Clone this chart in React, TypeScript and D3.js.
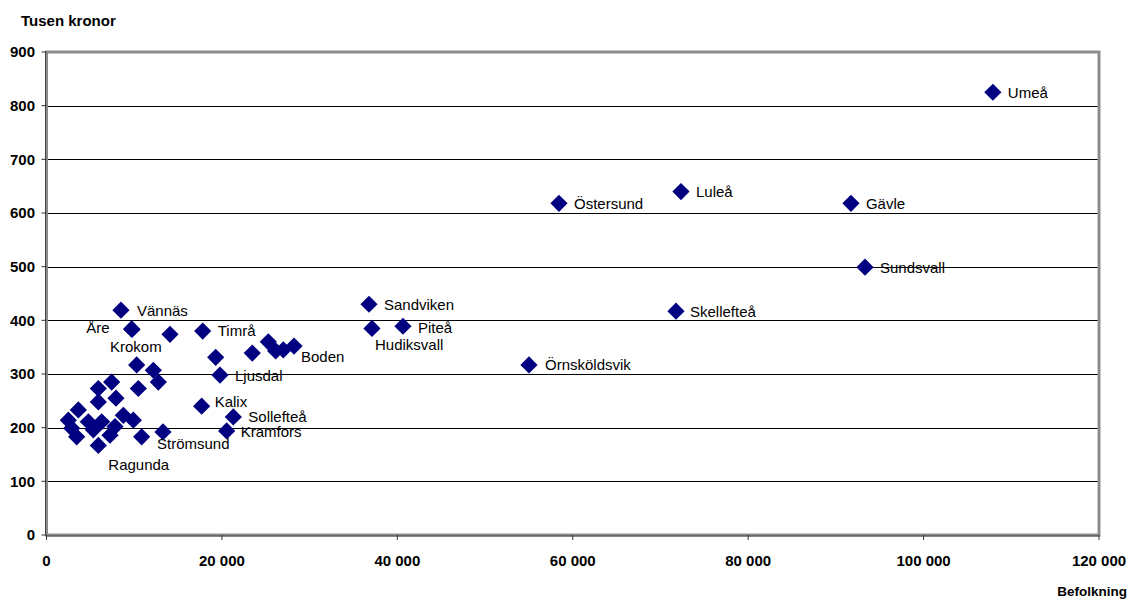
import React from "react";
import * as d3 from "d3";

// Population (Befolkning) and value (Tusen kronor) per municipality
const names: string[] = [
  "Umeå", "Luleå", "Gävle", "Östersund", "Sundsvall", "Skellefteå", "Örnsköldsvik",
  "Sandviken", "Hudiksvall", "Piteå", "Vännäs", "Åre", "Krokom", "", "Timrå", "",
  "Ljusdal", "", "", "", "", "Boden", "Kalix", "Sollefteå", "Kramfors", "Strömsund",
  "", "Ragunda", "", "", "", "", "", "", "", "", "", "", "", "", "", "", "", "", "", "",
];
const population: number[] = [
  107900, 72340, 91720, 58430, 93320, 71770, 55010,
  36770, 37110, 40640, 8490, 9700, 9750, 14080, 17810, 19290,
  19780, 23460, 25290, 26130, 27000, 28220, 17690, 21300, 20540, 13280,
  10850, 5910, 10280, 12180, 12750, 10470, 7430, 5910, 5910, 7920, 3630, 2490, 4770, 6290,
  8760, 9900, 3440, 7240, 5340, 2870, 7810,
];
const value: number[] = [
  825, 640, 618, 618, 499, 417, 317,
  430, 385, 389, 419, 384, 383, 374, 380, 331,
  298, 339, 360, 343, 345, 352, 240, 220, 194, 192,
  183, 167, 317, 307, 285, 273, 285, 273, 248, 255, 233, 214, 211, 211,
  223, 214, 183, 186, 196, 199, 202,
];
const yTicks: number[] = [0, 100, 200, 300, 400, 500, 600, 700, 800, 900];
const xTicks: number[] = [0, 20000, 40000, 60000, 80000, 100000, 120000];

// label placement (offset from marker centre, anchor)
const labelPlace: Record<string, [number, number, string]> = {
  "Umeå": [15, 0, "start"],
  "Luleå": [15, 0, "start"],
  "Gävle": [15, 0, "start"],
  "Östersund": [15, 0, "start"],
  "Sundsvall": [15, 0, "start"],
  "Skellefteå": [14, 0, "start"],
  "Örnsköldsvik": [16, 0, "start"],
  "Sandviken": [15, 0, "start"],
  "Hudiksvall": [3, 16, "start"],
  "Piteå": [15, 1, "start"],
  "Vännäs": [16, 0, "start"],
  "Åre": [-22, -1, "end"],
  "Krokom": [-22, 17, "start"],
  "Timrå": [15, 0, "start"],
  "Ljusdal": [15, 1, "start"],
  "Boden": [7, 11, "start"],
  "Kalix": [13, -5, "start"],
  "Sollefteå": [15, 0, "start"],
  "Kramfors": [14, 1, "start"],
  "Strömsund": [-6, 12, "start"],
  "Ragunda": [10, 19, "start"],
};

const W = 1138;
const H = 602;
const left = 46.5, right = 1099, top = 52, bottom = 535;

export default function App() {
  const x = d3.scaleLinear().domain([0, 120000]).range([left, right]);
  const y = d3.scaleLinear().domain([0, 900]).range([bottom, top]);
  const fmt = (v: number) => d3.format(",")(v).replace(/,/g, " ");
  const r = 8.6;
  const diamond = `M0,${-r}L${r},0L0,${r}L${-r},0Z`;
  const font = "Arial, 'Liberation Sans', Helvetica, sans-serif";

  return (
    <svg width={W} height={H} style={{ position: "absolute", left: 0, top: 0, background: "#fff" }}
      fontFamily={font}>
      {/* gridlines */}
      {yTicks.filter((t) => t > 0 && t < 900).map((t) => (
        <line key={"g" + t} x1={left} x2={right} y1={Math.round(y(t)) + 0.5} y2={Math.round(y(t)) + 0.5}
          stroke="#000" strokeWidth={1} />
      ))}
      {/* frame */}
      <rect x={left} y={top} width={right - left} height={bottom - top} fill="none" stroke="#8c8c8c" strokeWidth={3} />
      <line x1={left - 1} x2={left - 1} y1={top} y2={bottom} stroke="#444" strokeWidth={1} />
      <line x1={left} x2={right} y1={bottom + 1} y2={bottom + 1} stroke="#444" strokeWidth={1} />
      {/* y ticks */}
      {yTicks.map((t) => (
        <g key={"y" + t}>
          <line x1={left - 5} x2={left} y1={y(t)} y2={y(t)} stroke="#333" strokeWidth={1} />
          <text x={35} y={y(t)} dy="0.36em" textAnchor="end" fontSize={15} fontWeight="bold">{fmt(t)}</text>
        </g>
      ))}
      {/* x ticks */}
      {xTicks.map((t) => (
        <g key={"x" + t}>
          <line x1={x(t)} x2={x(t)} y1={bottom} y2={bottom + 5} stroke="#333" strokeWidth={1} />
          <text x={x(t)} y={566} textAnchor="middle" fontSize={15} fontWeight="bold">{fmt(t)}</text>
        </g>
      ))}
      <text x={21} y={26} fontSize={15} fontWeight="bold">Tusen kronor</text>
      <text x={1127} y={596} textAnchor="end" fontSize={13.5} fontWeight="bold">Befolkning</text>
      {/* markers */}
      {population.map((p, i) => (
        <path key={"m" + i} d={diamond} transform={`translate(${x(p)},${y(value[i])})`} fill="#000080" />
      ))}
      {/* labels */}
      {population.map((p, i) => {
        const n = names[i];
        if (!n || !labelPlace[n]) return null;
        const [dx, dy, anchor] = labelPlace[n];
        return (
          <text key={"l" + i} x={x(p) + dx} y={y(value[i]) + dy} dy="0.36em" textAnchor={anchor as any}
            fontSize={15} fill="#000">{n}</text>
        );
      })}
    </svg>
  );
}
